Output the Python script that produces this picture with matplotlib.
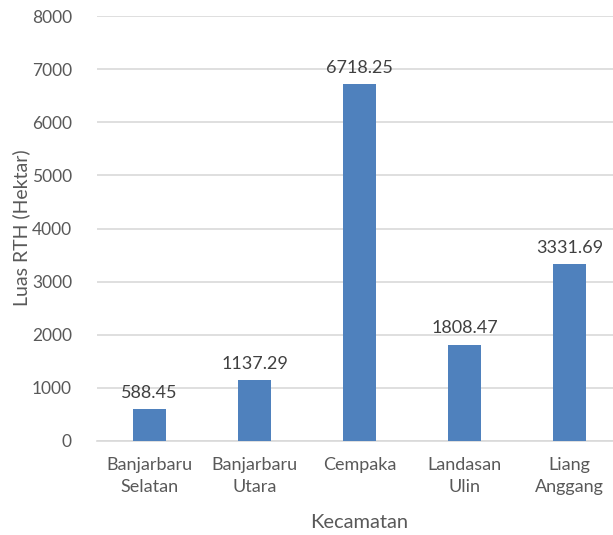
import matplotlib
matplotlib.use("Agg")
from matplotlib import pyplot as plt

kecamatan = ["Banjarbaru\nSelatan", "Banjarbaru\nUtara", "Cempaka", "Landasan\nUlin", "Liang\nAnggang"]
luas_rth = [588.45, 1137.29, 6718.25, 1808.47, 3331.69]
y_ticks = [0, 1000, 2000, 3000, 4000, 5000, 6000, 7000, 8000]

plt.rcParams['font.family'] = ['Lato', 'DejaVu Sans']

fig = plt.figure(figsize=(6.13, 5.35), dpi=100)
ax = fig.add_axes([97 / 613, 94.3 / 535, 525 / 613, 424.4 / 535])

x = list(range(len(kecamatan)))
bars = ax.bar(x, luas_rth, width=0.315, color="#4F81BD", zorder=3)

for b, v in zip(bars, luas_rth):
    ax.annotate(f"{v:.2f}", (b.get_x() + b.get_width() / 2, v),
                xytext=(0, 6), textcoords="offset points",
                ha="center", va="bottom", fontsize=13, color="#404040")

ax.set_xlim(-0.5, 4.5)
ax.set_ylim(0, 8000)
ax.set_yticks(y_ticks)
ax.set_xticks(x)
ax.set_xticklabels(kecamatan, fontsize=13, color="#595959", linespacing=1.4)
ax.tick_params(axis="y", labelsize=12.5, labelcolor="#595959", length=0, pad=18)
ax.tick_params(axis="x", length=0, pad=12)
ax.yaxis.grid(True, color="#d9d9d9", linewidth=1.2, zorder=0)

for side in ["top", "right", "left"]:
    ax.spines[side].set_visible(False)
ax.spines["bottom"].set_color("#d9d9d9")
ax.spines["bottom"].set_linewidth(1.2)

ax.set_xlabel("Kecamatan", fontsize=14.5, color="#595959", labelpad=14)
# y label placed by hand, axes sticks out on the right
fig.text(21 / 613, 1 - 228 / 535, "Luas RTH (Hektar)", rotation=90,
         ha="center", va="center", fontsize=14, color="#595959")

fig.savefig("out.png", dpi=100)
